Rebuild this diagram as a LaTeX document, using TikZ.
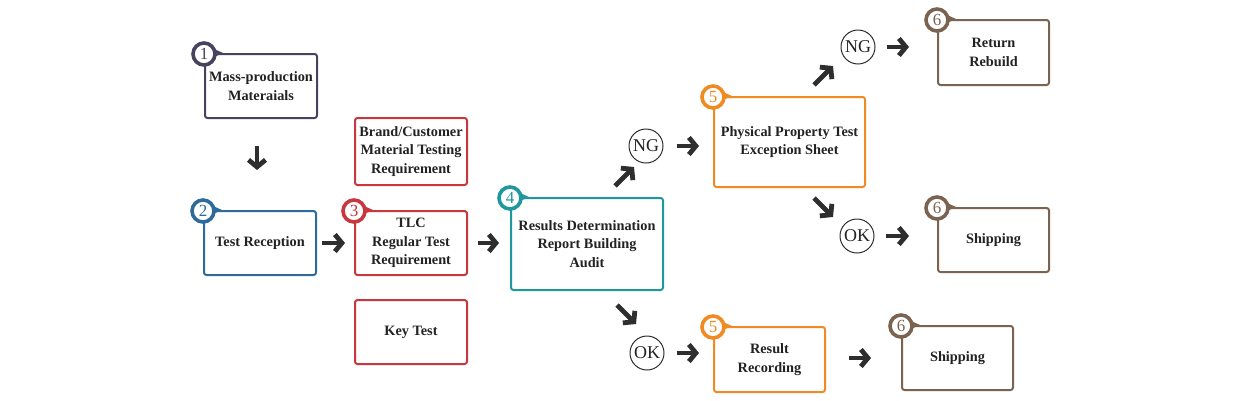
\documentclass[tikz,border=0pt]{standalone}
\usepackage{fontspec}
\setmainfont{Liberation Serif}
\usetikzlibrary{arrows.meta}
\definecolor{cA}{HTML}{48425E}
\definecolor{cB}{HTML}{2F6B9A}
\definecolor{cC}{HTML}{C7373D}
\definecolor{cD}{HTML}{1E979E}
\definecolor{cE}{HTML}{F08A22}
\definecolor{cF}{HTML}{7A6451}
\definecolor{arrc}{HTML}{2E2E2E}
\definecolor{txt}{HTML}{222222}
\begin{document}
\begin{tikzpicture}[x=1pt,y=-1pt,
  box/.style={draw, line width=2pt, rounded corners=2.5pt, fill=white, align=center,
    text=txt, font=\bfseries\fontsize{14.3}{18.5}\selectfont, inner sep=0pt},
  badge/.style={circle, draw, line width=3.6pt, fill=white, minimum size=22pt, inner sep=0pt,
    font=\fontsize{17}{17}\selectfont},
  res/.style={circle, draw=arrc, line width=1pt, minimum size=34pt, inner sep=0pt,
    text=txt, font=\fontsize{18}{18}\selectfont},
  arr/.style={line width=4.8pt, draw=arrc,
    -{Straight Barb[length=7pt,width=17pt,line width=4.8pt]}}]
\useasboundingbox (0,0) rectangle (1240,400);

% boxes
\node[box, draw=cA, minimum width=112pt, minimum height=64pt] (b1) at (261,86) {Mass-production\\Materaials};
\node[box, draw=cB, minimum width=112pt, minimum height=64pt] (b2) at (260,243) {Test Reception};
\node[box, draw=cC, minimum width=112pt, minimum height=67pt] (brand) at (411,151.5) {Brand/Customer\\Material Testing\\Requirement};
\node[box, draw=cC, minimum width=112pt, minimum height=64pt] (b3) at (411,243) {TLC\\Regular Test\\Requirement};
\node[box, draw=cC, minimum width=112pt, minimum height=64pt] (key) at (411,332) {Key Test};
\node[box, draw=cD, minimum width=152pt, minimum height=92pt] (b4) at (587,244) {Results Determination\\Report Building\\Audit};
\node[box, draw=cE, minimum width=151pt, minimum height=90pt] (b5a) at (789.5,142) {Physical Property Test\\Exception Sheet};
\node[box, draw=cE, minimum width=111pt, minimum height=65pt] (b5b) at (769.5,359.5) {Result\\Recording};
\node[box, draw=cF, minimum width=111pt, minimum height=65pt] (b6a) at (993.5,52.5) {Return\\Rebuild};
\node[box, draw=cF, minimum width=111pt, minimum height=64pt] (b6b) at (993.5,240) {Shipping};
\node[box, draw=cF, minimum width=111pt, minimum height=64pt] (b6c) at (957.5,358) {Shipping};

% badges with a small pointer toward the box top edge
\foreach \b/\c/\t in {b1/cA/1, b2/cB/2, b3/cC/3, b4/cD/4, b5a/cE/5, b5b/cE/5, b6a/cF/6, b6b/cF/6, b6c/cF/6}{
  \fill[\c] ([shift={(8,-5)}]\b.north west) -- ([shift={(19,0)}]\b.north west) -- ([shift={(8,5)}]\b.north west) -- cycle;
  \node[badge, draw=\c, text=\c] (n\b) at ([shift={(0,1)}]\b.north west) {\t};
}

% result circles
\node[res] (ng1) at (646,146) {NG};
\node[res] (ng2) at (858,47) {NG};
\node[res] (ok1) at (857,236) {OK};
\node[res] (ok2) at (647,353) {OK};

% arrow end points
\coordinate (d1s) at (257,146);  \coordinate (d1e) at (257,170);
\coordinate (u1s) at (615,186);  \coordinate (u1e) at (634,167);
\coordinate (u2s) at (814,85);   \coordinate (u2e) at (833,66);
\coordinate (r1s) at (814,198);  \coordinate (r1e) at (833,217);
\coordinate (r2s) at (617,305);  \coordinate (r2e) at (636,324);

% arrows
\draw[arr] (d1s) -- (d1e);
\draw[arr, shorten <=5pt, shorten >=9pt] (b2.east) -- (b2.east -| b3.west);
\draw[arr, shorten <=10pt, shorten >=11pt] (b3.east) -- (b3.east -| b4.west);
\draw[arr] (u1s) -- (u1e);
\draw[arr, shorten <=13pt, shorten >=14pt] (ng1.east) -- (ng1.east -| b5a.west);
\draw[arr] (u2s) -- (u2e);
\draw[arr, shorten <=11pt, shorten >=28pt] (ng2.east) -- (ng2.east -| b6a.west);
\draw[arr] (r1s) -- (r1e);
\draw[arr, shorten <=11pt, shorten >=28pt] (ok1.east) -- (ok1.east -| b6b.west);
\draw[arr] (r2s) -- (r2e);
\draw[arr, shorten <=12pt, shorten >=14pt] (ok2.east) -- (ok2.east -| b5b.west);
\draw[arr, shorten <=23pt, shorten >=30pt] (b5b.east |- 0,358) -- (b6c.west |- 0,358);
\end{tikzpicture}
\end{document}
